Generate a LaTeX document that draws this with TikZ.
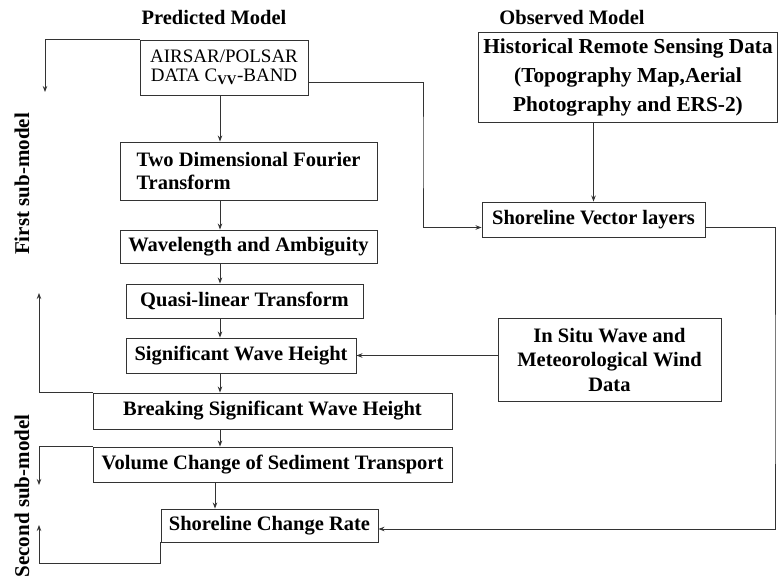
\documentclass[tikz,border=0pt]{standalone}
\usepackage{fontspec}
\setmainfont{Liberation Serif}
\usetikzlibrary{arrows.meta,positioning}

\begin{document}
\begin{tikzpicture}[x=1pt,y=-1pt,
    box/.style={draw=black!80,line width=0.9pt,inner sep=0pt,align=center,font=\bfseries\fontsize{20.5}{23}\selectfont},
    head/.style={font=\bfseries\fontsize{20.5}{22}\selectfont},
    side/.style={rotate=90,font=\bfseries\fontsize{21}{22}\selectfont},
    arr/.style={draw=black!80,line width=0.9pt,-{Stealth[length=6pt,width=4.5pt]}},
    lin/.style={draw=black!80,line width=0.9pt}]
        \useasboundingbox (0,0) rectangle (779,580);

        \node[head] (pm) at (214,17) {Predicted Model};
        \node[head] (om) at (572,17) {Observed Model};
        \node[side] (fs) at (22,184) {First sub-model};
        \node[side] (ss) at (22,496) {Second sub-model};

        \node[box,minimum width=168pt,minimum height=55pt,font=\fontsize{19}{19}\selectfont] (air) at (224,67.5) {AIRSAR/POLSAR\\DATA C\textsubscript{\textbf{VV}}-BAND};
        \node[box,minimum width=257pt,minimum height=58pt,align=left] (four) at (248.5,171) {Two Dimensional Fourier\\Transform};
        \node[box,minimum width=257pt,minimum height=33pt] (wave) at (248.5,246.5) {Wavelength and Ambiguity};
        \node[box,minimum width=237pt,minimum height=34pt] (quasi) at (244.5,301) {Quasi-linear Transform};
        \node[box,minimum width=230pt,minimum height=35pt] (sig) at (241,355.5) {Significant Wave Height};
        \node[box,minimum width=359pt,minimum height=36pt] (brk) at (272.5,411) {Breaking Significant Wave Height};
        \node[box,minimum width=359pt,minimum height=35pt] (vol) at (272.5,464.5) {Volume Change of Sediment Transport};
        \node[box,minimum width=217pt,minimum height=33pt] (shc) at (269.5,525.5) {Shoreline Change Rate};

        \node[box,minimum width=299pt,minimum height=90pt,font=\bfseries\fontsize{21.3}{29}\selectfont] (hist) at (628,77) {Historical Remote Sensing Data\\(Topography Map,Aerial\\Photography and ERS-2)};
        \node[box,minimum width=223pt,minimum height=35pt] (svl) at (593.5,219.5) {Shoreline Vector layers};
        \node[box,minimum width=223pt,minimum height=83pt,font=\bfseries\fontsize{20.5}{24.5}\selectfont] (insitu) at (609.5,359.5) {In Situ Wave and\\Meteorological Wind\\Data};

        \coordinate (ax) at (220,0);
        \coordinate (bx) at (215,0);
        \foreach \a/\b in {air/four,four/wave,wave/quasi,quasi/sig,sig/brk,brk/vol} {
            \draw[arr] (\a.south -| ax) -- (\b.north -| ax);
        }
        \draw[arr] (vol.south -| bx) -- (shc.north -| bx);
        \draw[arr] (hist.south -| svl.north) -- (svl.north);

        \coordinate (ja) at (45,92);
        \coordinate (jb) at (423,150);
        \coordinate (jc) at (775,400);
        \coordinate (lb) at (39,293);
        \coordinate (lv) at (39,485);
        \coordinate (ls) at (39,525);
        \draw[arr] (air.north west) -| (ja);
        \draw[arr] ([yshift=-14.5pt]air.east) -| (jb) |- ([yshift=-8pt]svl.west);
        \draw[arr] ([yshift=-7.5pt]svl.east) -| (jc) |- ([yshift=-3.5pt]shc.east);
        \draw[arr] (insitu.west |- sig.east) -- (sig.east);
        \draw[arr] (brk.north west) -| (lb);
        \draw[arr] (vol.north west) -| (lv);
        \draw[arr] (shc.south west) -- ++(0,21) -| (ls);
\end{tikzpicture}
\end{document}
